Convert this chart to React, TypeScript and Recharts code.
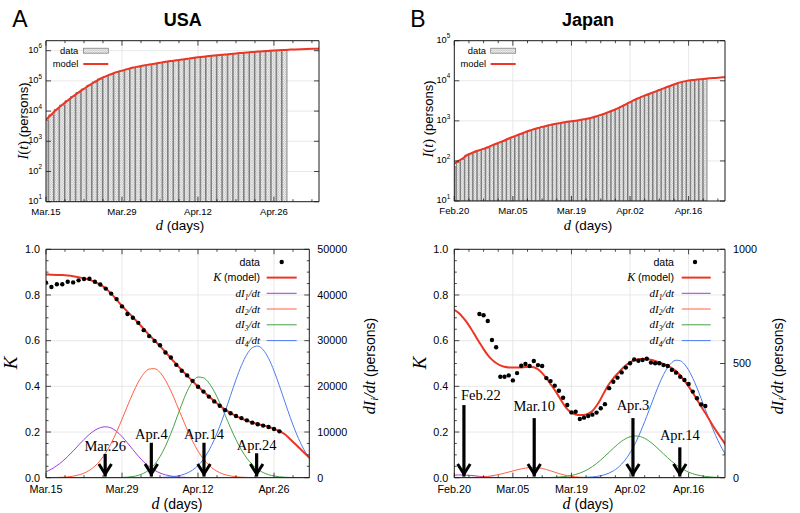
import React from 'react';
import { ComposedChart, Bar, Line, Scatter, XAxis, YAxis, CartesianGrid, ReferenceLine } from 'recharts';

const SANS = '"Liberation Sans", Arial, Helvetica, sans-serif';
const SERIF = '"Liberation Serif", "Times New Roman", serif';
const RED = '#ee3524';
const C1 = '#9a3fe0';
const C2 = '#ff6040';
const C3 = '#48a048';
const C4 = '#4d7cf0';
const AX = '#1a1a1a';

// ================= USA =================
const usaTickDays = [0, 14, 28, 42];
const usaTickLabels = ['Mar.15', 'Mar.29', 'Apr.12', 'Apr.26'];
const usaCumData = [4900, 7500, 11200, 15800, 22000, 30500, 41000, 54000, 71500, 92000,
  116000, 140000, 164000, 192000, 216000, 243000, 272000, 296000, 320000, 344000,
  368000, 395000, 424000, 454000, 476000, 508000, 534000, 571000, 598000, 627000,
  656000, 688000, 720000, 738000, 772000, 808000, 837000, 866000, 897000, 928000,
  950000, 979000, 1005000, 1030000, 1053000];
const usaCumModel = [5190, 7760, 11480, 16220, 22390, 30900, 41690, 54950, 72440, 93330,
  117500, 141300, 166000, 195000, 218800, 245500, 275400, 298500, 323600, 346700,
  371500, 398100, 426600, 457100, 478600, 512900, 537000, 575400, 602600, 631000,
  660700, 691800, 724400, 741300, 776200, 812800, 841400, 871000, 901600, 933300,
  955000, 984000, 1011600, 1035000, 1059000, 1084000, 1104000, 1122000, 1140000, 1156000,
  1169000, 1180000];
const usaKStart = 0;
const usaKData = [0.854, 0.835, 0.847, 0.847, 0.858, 0.855, 0.864, 0.870, 0.871, 0.858,
  0.846, 0.828, 0.806, 0.782, 0.750, 0.717, 0.700, 0.678, 0.646, 0.620,
  0.599, 0.580, 0.548, 0.526, 0.494, 0.468, 0.448, 0.424, 0.398, 0.377,
  0.355, 0.334, 0.315, 0.296, 0.282, 0.270, 0.261, 0.251, 0.241, 0.234,
  0.228, 0.222, 0.213, 0.203];
const usaKModel = [0.890, 0.889, 0.888, 0.887, 0.885, 0.882, 0.878, 0.873, 0.866, 0.857,
  0.845, 0.828, 0.806, 0.780, 0.752, 0.727, 0.703, 0.678, 0.651, 0.625,
  0.601, 0.576, 0.550, 0.523, 0.497, 0.471, 0.447, 0.423, 0.399, 0.377,
  0.356, 0.335, 0.316, 0.298, 0.283, 0.270, 0.259, 0.250, 0.242, 0.235,
  0.229, 0.222, 0.214, 0.204, 0.190, 0.168, 0.145, 0.122, 0.099, 0.077];
const usaDI1 = [1285, 1870, 2630, 3555, 4650, 5860, 7140, 8380, 9490, 10380,
  10950, 11150, 10890, 10140, 9000, 7620, 6150, 4730, 3470, 2430,
  1620, 1030, 625, 360, 200, 105, 52, 25, 11, 5,
  2, 1, 0, 0, 0, 0, 0, 0, 0, 0,
  0, 0, 0, 0, 0, 0, 0, 0, 0, 0];
const usaDI2 = [11, 24, 49, 97, 184, 338, 592, 998, 1620, 2530,
  3790, 5450, 7550, 10020, 12790, 15690, 18480, 20930, 22760, 23780,
  23870, 23030, 21340, 19010, 16260, 13370, 10560, 8010, 5840, 4090,
  2750, 1780, 1100, 660, 378, 209, 110, 56, 28, 13,
  6, 3, 1, 0, 0, 0, 0, 0, 0, 0];
const usaDI3 = [0, 0, 0, 0, 0, 0, 0, 0, 0, 0,
  1, 3, 9, 23, 54, 122, 258, 516, 977, 1740,
  2910, 4610, 6880, 9670, 12830, 16050, 18910, 21030, 22040, 21870,
  20750, 18870, 16410, 13670, 10910, 8330, 6090, 4260, 2860, 1830,
  1125, 660, 373, 201, 104, 52, 24, 11, 5, 2];
const usaDI4 = [0, 0, 0, 0, 0, 0, 0, 0, 0, 0,
  0, 0, 0, 0, 0, 0, 0, 2, 4, 10,
  21, 45, 91, 177, 330, 590, 1020, 1680, 2670, 4060,
  5940, 8340, 11230, 14500, 18020, 21470, 24560, 26990, 28450, 28810,
  28000, 26120, 23390, 20110, 16600, 13160, 10010, 7310, 5130, 3450];
const usaArrowDays = [10.9, 19.4, 29.1, 38.8];
const usaArrowTops = [0.104, 0.153, 0.153, 0.107];
const usaArrowLabels = ['Mar.26', 'Apr.4', 'Apr.14', 'Apr.24'];
const usaArrowAlign = ['middle', 'middle', 'middle', 'middle'];
const usaArrowGaps = [3, 3.7, 3.7, 3];

// ================= Japan =================
const jpTickDays = [0, 14, 28, 42, 56];
const jpTickLabels = ['Feb.20', 'Mar.05', 'Mar.19', 'Apr.02', 'Apr.16'];
const jpCumData = [72, 92, 110, 140, 150, 165, 182, 198, 212, 240,
  262, 290, 318, 355, 392, 430, 472, 520, 565, 610,
  650, 700, 740, 785, 820, 860, 900, 935, 965, 1000,
  1035, 1080, 1130, 1200, 1280, 1390, 1510, 1650, 1810, 2010,
  2250, 2530, 2900, 3270, 3630, 4030, 4420, 4850, 5320, 5830,
  6400, 7020, 7700, 8350, 9050, 9600, 10050, 10400, 10650, 10900,
  11150];
const jpCumModel = [85, 100, 115, 138, 155, 172, 186, 200, 219, 245,
  269, 295, 324, 363, 398, 437, 479, 525, 575, 617,
  661, 708, 750, 794, 832, 871, 912, 944, 977, 1012,
  1047, 1096, 1148, 1216, 1303, 1413, 1531, 1679, 1841, 2042,
  2291, 2570, 2951, 3311, 3673, 4074, 4467, 4898, 5370, 5888,
  6457, 7079, 7762, 8414, 9120, 9661, 10116, 10471, 10715, 10965,
  11220, 11482, 11749, 11967, 12162, 12400];
const jpKStart = 6;
const jpKData = [0.717, 0.711, 0.686, 0.603, 0.571, 0.442, 0.442, 0.448, 0.426, 0.458,
  0.490, 0.498, 0.489, 0.511, 0.493, 0.489, 0.436, 0.423, 0.403, 0.381,
  0.350, 0.318, 0.286, 0.289, 0.257, 0.263, 0.270, 0.276, 0.285, 0.304,
  0.322, 0.392, 0.420, 0.438, 0.461, 0.482, 0.501, 0.518, 0.512, 0.515,
  0.521, 0.504, 0.501, 0.501, 0.493, 0.489, 0.472, 0.460, 0.442, 0.428,
  0.410, 0.377, 0.348, 0.321, 0.314];
const jpKModel = [0.735, 0.722, 0.703, 0.680, 0.652, 0.622, 0.592, 0.563, 0.537, 0.517,
  0.502, 0.492, 0.486, 0.483, 0.482, 0.482, 0.483, 0.485, 0.486, 0.484,
  0.475, 0.458, 0.436, 0.410, 0.384, 0.355, 0.325, 0.300, 0.285, 0.277,
  0.274, 0.275, 0.280, 0.292, 0.315, 0.345, 0.380, 0.410, 0.435, 0.455,
  0.475, 0.492, 0.505, 0.514, 0.519, 0.521, 0.520, 0.516, 0.511, 0.505,
  0.498, 0.490, 0.480, 0.466, 0.448, 0.425, 0.400, 0.372, 0.342, 0.312,
  0.283, 0.253, 0.222, 0.194, 0.167, 0.140];
const jpDI1 = [11, 12, 12, 11, 10, 8, 6, 4.5, 3, 2,
  1, 0.6, 0.3, 0, 0, 0, 0, 0, 0, 0,
  0, 0, 0, 0, 0, 0, 0, 0, 0, 0,
  0, 0, 0, 0, 0, 0, 0, 0, 0, 0,
  0, 0, 0, 0, 0, 0, 0, 0, 0, 0,
  0, 0, 0, 0, 0, 0, 0, 0, 0, 0,
  0, 0, 0, 0, 0, 0];
const jpDI2 = [0.1, 0.2, 0.4, 0.6, 1.1, 1.7, 2.7, 4.1, 6.0, 8.5,
  11.7, 15.5, 19.9, 24.7, 29.7, 34.5, 38.7, 42.1, 44.3, 45,
  43.9, 40.7, 35.9, 30.2, 24.1, 18.3, 13.2, 9.1, 5.9, 3.7,
  2.2, 1.2, 0.6, 0.3, 0.1, 0, 0, 0, 0, 0,
  0, 0, 0, 0, 0, 0, 0, 0, 0, 0,
  0, 0, 0, 0, 0, 0, 0, 0, 0, 0,
  0, 0, 0, 0, 0, 0];
const jpDI3 = [0, 0, 0, 0, 0, 0, 0, 0, 0, 0,
  0, 0, 0, 0, 0, 0, 0, 0, 0, 0,
  0.2, 0.4, 0.6, 1.1, 1.7, 2.8, 4.4, 6.6, 9.8, 14.2,
  20.1, 27.6, 37, 48.6, 62.1, 77.3, 94, 111.4, 128.8, 145.3,
  159.7, 171.3, 179.2, 182.8, 181.9, 176.5, 167.1, 154.2, 138.9, 121.9,
  104.4, 87.2, 71, 56.5, 43.7, 33.1, 24.4, 17.5, 12.3, 8.4,
  5.6, 3.7, 2.3, 1.4, 0.9, 0.5];
const jpDI4 = [0, 0, 0, 0, 0, 0, 0, 0, 0, 0,
  0, 0, 0, 0, 0, 0, 0, 0, 0, 0,
  0, 0, 0, 0, 0, 0, 0, 0, 0, 0,
  0.7, 1.2, 2.0, 3.3, 5.5, 8.7, 13.4, 20.2, 29.7, 42.5,
  59.6, 81.4, 108.5, 141.1, 179.3, 222.3, 268.8, 317.3, 365.6, 410.9,
  450.9, 482.8, 504.5, 514.4, 511.9, 497.2, 471.2, 435.7, 393.4, 346.6,
  297.9, 249.9, 204.5, 163.5, 127.5, 97];
const jpArrowDays = [2.3, 19.1, 42.7, 53.9];
const jpArrowTops = [0.318, 0.261, 0.261, 0.133];
const jpArrowLabels = ['Feb.22', 'Mar.10', 'Apr.3', 'Apr.14'];
const jpArrowAlign = ['start', 'middle', 'middle', 'middle'];
const jpArrowGaps = [5, 7, 8, 7];

// ================= helpers =================
const near = (a: number, b: number) => Math.abs(a - b) < 1e-6;
const seq = (start: number, end: number, step: number) => {
  const out: number[] = [];
  const n = Math.round((end - start) / step);
  for (let i = 0; i <= n; i++) out.push(+(start + i * step).toFixed(6));
  return out;
};

function XTickBottom(props: any) {
  const { x, y, payload, majors, labels, fs, dy } = props;
  const idx = majors.findIndex((m: number) => near(m, payload.value));
  const major = idx >= 0;
  return (
    <g>
      <line x1={x} x2={x} y1={y} y2={y - (major ? 5 : 2.5)} stroke={AX} strokeWidth={0.8} />
      {major ? (
        <text x={x} y={y + dy} textAnchor="middle" fontFamily={SANS} fontSize={fs} fill="#000">{labels[idx]}</text>
      ) : null}
    </g>
  );
}
function XTickTop(props: any) {
  const { x, y, payload, majors } = props;
  const major = majors.some((m: number) => near(m, payload.value));
  return <line x1={x} x2={x} y1={y} y2={y + (major ? 5 : 2.5)} stroke={AX} strokeWidth={0.8} />;
}
function YTickLeft(props: any) {
  const { x, y, payload, majors, fmt, fs } = props;
  const major = majors.some((m: number) => near(m, payload.value));
  return (
    <g>
      <line x1={x} x2={x + (major ? 5 : 2.5)} y1={y} y2={y} stroke={AX} strokeWidth={0.8} />
      {major ? (
        <text x={x - 6} y={y + 3.8} textAnchor="end" fontFamily={SANS} fontSize={fs} fill="#000">{fmt(payload.value)}</text>
      ) : null}
    </g>
  );
}
function YTickRight(props: any) {
  const { x, y, payload, majors, fmt, fs, show } = props;
  const major = majors.some((m: number) => near(m, payload.value));
  return (
    <g>
      <line x1={x} x2={x - (major ? 5 : 2.5)} y1={y} y2={y} stroke={AX} strokeWidth={0.8} />
      {major && show ? (
        <text x={x + 8} y={y + 3.8} textAnchor="start" fontFamily={SANS} fontSize={fs} fill="#000">{fmt(payload.value)}</text>
      ) : null}
    </g>
  );
}
function LogTickLeft(props: any) {
  const { x, y, payload, show } = props;
  const e = Math.round(Math.log10(payload.value));
  return (
    <g>
      <line x1={x} x2={x + 5} y1={y} y2={y} stroke={AX} strokeWidth={0.8} />
      {show ? (
        <text x={x - 4} y={y + 2.2} textAnchor="end" fontFamily={SANS} fontSize={9.3} fill="#000">
          10<tspan fontSize={6.3} dy={-4.5}>{e}</tspan>
        </text>
      ) : null}
    </g>
  );
}
function LogTickRight(props: any) {
  const { x, y } = props;
  return <line x1={x} x2={x - 5} y1={y} y2={y} stroke={AX} strokeWidth={0.8} />;
}

const arrowLabel = (text: string, align: string, gap: number) => (p: any) => {
  const vb = (p && p.viewBox) || {};
  const cx = (vb.x ?? 0) + (vb.width ?? 0) / 2;
  const top = vb.y ?? 0;
  return (
    <text x={align === 'start' ? cx - 3 : cx} y={top - gap} textAnchor={align as any}
      fontFamily={SERIF} fontSize={14.5} fill="#000">{text}</text>
  );
};

const axisLine = { stroke: AX, strokeWidth: 1 };
// axes take 1px; margins are the plot box minus that
const mg = (top: number, right: number, bottom: number, left: number) => ({
  top: top - 1, right: right - 1, bottom: bottom - 1, left: left - 1,
});

type TopProps = {
  id: string; cum: number[]; model: number[]; tickDays: number[]; tickLabels: string[];
  xMax: number; yMax: number; decades: number[]; box: number[];
};
function TopPanel({ id, cum, model, tickDays, tickLabels, xMax, yMax, decades, box }: TopProps) {
  const W = 400, H = 230;
  const bars = cum.map((v, i) => ({ day: i, cum: v }));
  const line = model.map((v, i) => ({ day: i, model: v }));
  const xTicks = seq(0, Math.floor(xMax / 3.5) * 3.5, 3.5);
  const barSize = (W - box[1] - box[3]) / xMax;
  return (
    <ComposedChart width={W} height={H} data={bars} margin={mg(box[0], box[1], box[2], box[3])}>
      <defs>
        <pattern id={`hatch-${id}`} patternUnits="userSpaceOnUse" width={2.4} height={2.4}>
          <rect width={2.4} height={2.4} fill="#f4f4f4" />
          <path d="M0,0 L2.4,2.4 M2.4,0 L0,2.4" stroke="#b4b4b4" strokeWidth={0.5} />
        </pattern>
      </defs>
      <CartesianGrid xAxisId="b" yAxisId="l" stroke="#e2e2e2" strokeWidth={0.8}
        verticalValues={tickDays.slice(1)} horizontalValues={decades.filter((d) => d > 10 && d < yMax)} />
      <XAxis xAxisId="b" dataKey="day" type="number" domain={[0, xMax]} allowDataOverflow ticks={xTicks} interval={0}
        height={1} tickSize={0} tickMargin={0} tickLine={false} axisLine={axisLine}
        tick={(p: any) => <XTickBottom {...p} majors={tickDays} labels={tickLabels} fs={9.6} dy={13} />} />
      <XAxis xAxisId="t" orientation="top" dataKey="day" type="number" domain={[0, xMax]} allowDataOverflow ticks={xTicks} interval={0}
        height={1} tickSize={0} tickMargin={0} tickLine={false} axisLine={axisLine}
        tick={(p: any) => <XTickTop {...p} majors={tickDays} />} />
      <YAxis yAxisId="l" type="number" scale="log" domain={[10, yMax]} allowDataOverflow ticks={decades} interval={0}
        width={1} tickSize={0} tickMargin={0} tickLine={false} axisLine={axisLine}
        tick={(p: any) => <LogTickLeft {...p} show />} />
      <YAxis yAxisId="r" orientation="right" type="number" scale="log" domain={[10, yMax]} allowDataOverflow ticks={decades} interval={0}
        width={1} tickSize={0} tickMargin={0} tickLine={false} axisLine={axisLine}
        tick={(p: any) => <LogTickRight {...p} />} />
      <Bar xAxisId="b" yAxisId="l" dataKey="cum" fill={`url(#hatch-${id})`} stroke="#5a5a5a" strokeWidth={0.7}
        barSize={barSize} isAnimationActive={false} />
      <Line xAxisId="b" yAxisId="l" data={line} dataKey="model" type="monotone" stroke={RED} strokeWidth={2}
        dot={false} isAnimationActive={false} />
    </ComposedChart>
  );
}

type BottomProps = {
  id: string; kStart: number; kData: number[]; kModel: number[]; d1: number[]; d2: number[]; d3: number[]; d4: number[];
  tickDays: number[]; tickLabels: string[]; xMax: number; rMax: number; rMajor: number; rMinor: number;
  arrowDays: number[]; arrowTops: number[]; arrowLabels: string[]; arrowAlign: string[]; arrowGaps: number[]; box: number[];
};
function BottomPanel(props: BottomProps) {
  const { id, kStart, kData, kModel, d1, d2, d3, d4, tickDays, tickLabels, xMax, rMax, rMajor, rMinor,
    arrowDays, arrowTops, arrowLabels, arrowAlign, arrowGaps, box } = props;
  const W = 400, H = 283;
  const table = kModel.map((v, i) => ({ day: i, km: v, d1: d1[i], d2: d2[i], d3: d3[i], d4: d4[i] }));
  const dots = kData.map((v, i) => ({ day: kStart + i, k: v }));
  const xTicks = seq(0, Math.floor(xMax / 3.5) * 3.5, 3.5);
  const kTicks = seq(0, 1, 0.05);
  const kMajors = seq(0, 1, 0.2);
  const rTicks = seq(0, rMax, rMinor);
  const rMajors = seq(0, rMax, rMajor);
  const dotShape = (p: any) => <circle cx={p.cx} cy={p.cy} r={2.2} fill="#000" />;
  return (
    <ComposedChart width={W} height={H} data={table} margin={mg(box[0], box[1], box[2], box[3])}>
      <defs>
        <marker id={`vhead-${id}`} markerUnits="userSpaceOnUse" markerWidth={18} markerHeight={18}
          viewBox="-15 -9 18 18" refX={0} refY={0} orient="auto">
          <path d="M-12.5,-6.3 L-2.6,0 L-12.5,6.3" fill="none" stroke="#000" strokeWidth={3} />
        </marker>
      </defs>
      <CartesianGrid xAxisId="b" yAxisId="K" stroke="#e2e2e2" strokeWidth={0.8}
        verticalValues={tickDays.slice(1)} horizontalValues={[0.2, 0.4, 0.6, 0.8]} />
      <XAxis xAxisId="b" dataKey="day" type="number" domain={[0, xMax]} allowDataOverflow ticks={xTicks} interval={0}
        height={1} tickSize={0} tickMargin={0} tickLine={false} axisLine={axisLine}
        tick={(p: any) => <XTickBottom {...p} majors={tickDays} labels={tickLabels} fs={10.8} dy={15.4} />} />
      <XAxis xAxisId="t" orientation="top" dataKey="day" type="number" domain={[0, xMax]} allowDataOverflow ticks={xTicks} interval={0}
        height={1} tickSize={0} tickMargin={0} tickLine={false} axisLine={axisLine}
        tick={(p: any) => <XTickTop {...p} majors={tickDays} />} />
      <YAxis yAxisId="K" type="number" domain={[0, 1]} allowDataOverflow ticks={kTicks} interval={0}
        width={1} tickSize={0} tickMargin={0} tickLine={false} axisLine={axisLine}
        tick={(p: any) => <YTickLeft {...p} majors={kMajors} fmt={(v: number) => v.toFixed(1)} fs={10.8} />} />
      <YAxis yAxisId="R" orientation="right" type="number" domain={[0, rMax]} allowDataOverflow ticks={rTicks} interval={0}
        width={1} tickSize={0} tickMargin={0} tickLine={false} axisLine={axisLine}
        tick={(p: any) => <YTickRight {...p} majors={rMajors} fmt={(v: number) => String(v)} fs={10.8} show />} />
      <Line xAxisId="b" yAxisId="R" dataKey="d1" type="monotone" stroke={C1} strokeWidth={1} dot={false} isAnimationActive={false} />
      <Line xAxisId="b" yAxisId="R" dataKey="d2" type="monotone" stroke={C2} strokeWidth={1} dot={false} isAnimationActive={false} />
      <Line xAxisId="b" yAxisId="R" dataKey="d3" type="monotone" stroke={C3} strokeWidth={1} dot={false} isAnimationActive={false} />
      <Line xAxisId="b" yAxisId="R" dataKey="d4" type="monotone" stroke={C4} strokeWidth={1} dot={false} isAnimationActive={false} />
      <Line xAxisId="b" yAxisId="K" dataKey="km" type="monotone" stroke={RED} strokeWidth={2} dot={false} isAnimationActive={false} />
      <Scatter xAxisId="b" yAxisId="K" data={dots} dataKey="k" shape={dotShape} isAnimationActive={false} />
      {arrowDays.map((d, i) => (
        <ReferenceLine key={i} xAxisId="b" yAxisId="K"
          segment={[{ x: d, y: arrowTops[i] }, { x: d, y: 0.005 }]}
          stroke="#000" strokeWidth={3.2} markerEnd={`url(#vhead-${id})`}
          label={arrowLabel(arrowLabels[i], arrowAlign[i], arrowGaps[i])} />
      ))}
    </ComposedChart>
  );
}

function DI({ n }: { n: number }) {
  return (
    <>
      dI<tspan fontSize={7.5} dy={2.8}>{n}</tspan><tspan dy={-2.8}>/dt</tspan>
    </>
  );
}

function Overlay() {
  const legendRowsY = [262, 277.6, 293.3, 309, 324.8, 340.6];
  const bottomLegend = (textX: number, lineX1: number, lineX2: number, dotX: number) => (
    <g>
      <text x={textX} y={legendRowsY[0] + 3.8} textAnchor="end" fontFamily={SANS} fontSize={10.6}>data</text>
      <circle cx={dotX} cy={legendRowsY[0]} r={2.2} fill="#000" />
      <text x={textX} y={legendRowsY[1] + 3.8} textAnchor="end" fontSize={10.6}>
        <tspan fontFamily={SERIF} fontStyle="italic" fontSize={12}>K</tspan>
        <tspan fontFamily={SANS}> (model)</tspan>
      </text>
      <line x1={lineX1} x2={lineX2} y1={legendRowsY[1]} y2={legendRowsY[1]} stroke={RED} strokeWidth={2} />
      {[C1, C2, C3, C4].map((c, i) => (
        <g key={i}>
          <text x={textX} y={legendRowsY[i + 2] + 3.5} textAnchor="end" fontFamily={SERIF} fontStyle="italic" fontSize={11}>
            <DI n={i + 1} />
          </text>
          <line x1={lineX1} x2={lineX2} y1={legendRowsY[i + 2]} y2={legendRowsY[i + 2]} stroke={c} strokeWidth={1} />
        </g>
      ))}
    </g>
  );
  const topLegend = (textX: number, boxX: number, id: string) => (
    <g>
      <text x={textX} y={54} textAnchor="end" fontFamily={SANS} fontSize={9.4}>data</text>
      <rect x={boxX} y={48.2} width={25} height={5} fill={`url(#hatch-${id})`} stroke="#777" strokeWidth={0.7} />
      <text x={textX} y={67.3} textAnchor="end" fontFamily={SANS} fontSize={9.4}>model</text>
      <line x1={boxX} x2={boxX + 25} y1={64} y2={64} stroke={RED} strokeWidth={2} />
    </g>
  );
  const yTitleTop = (x: number, y: number) => (
    <text transform={`translate(${x},${y}) rotate(-90)`} textAnchor="middle" fontSize={13}>
      <tspan fontFamily={SERIF} fontStyle="italic" fontSize={14.5}>I</tspan>
      <tspan fontFamily={SERIF} fontSize={14.5}>(</tspan>
      <tspan fontFamily={SERIF} fontStyle="italic" fontSize={14.5}>t</tspan>
      <tspan fontFamily={SERIF} fontSize={14.5}>)</tspan>
      <tspan fontFamily={SANS}> (persons)</tspan>
    </text>
  );
  const yTitleRight = (x: number, y: number) => (
    <text transform={`translate(${x},${y}) rotate(-90)`} textAnchor="middle" fontSize={14}>
      <tspan fontFamily={SERIF} fontStyle="italic" fontSize={16}>dI</tspan>
      <tspan fontFamily={SERIF} fontStyle="italic" fontSize={11} dy={3}>i</tspan>
      <tspan fontFamily={SERIF} fontStyle="italic" fontSize={16} dy={-3}>/dt</tspan>
      <tspan fontFamily={SANS}> (persons)</tspan>
    </text>
  );
  const xTitle = (x: number, y: number, big: number, small: number) => (
    <text x={x} y={y} textAnchor="middle" fontSize={small}>
      <tspan fontFamily={SERIF} fontStyle="italic" fontSize={big}>d</tspan>
      <tspan fontFamily={SANS}> (days)</tspan>
    </text>
  );
  return (
    <svg width={800} height={513} style={{ position: 'absolute', left: 0, top: 0, pointerEvents: 'none' }}>
      <text x={20} y={26.7} textAnchor="middle" fontFamily={SANS} fontSize={23}>A</text>
      <text x={182.7} y={26} textAnchor="middle" fontFamily={SANS} fontSize={18} fontWeight="bold">USA</text>
      <text x={418} y={26.7} textAnchor="middle" fontFamily={SANS} fontSize={23}>B</text>
      <text x={588} y={26} textAnchor="middle" fontFamily={SANS} fontSize={18} fontWeight="bold">Japan</text>
      {topLegend(78.3, 83.3, 'usa')}
      {topLegend(486, 490.7, 'jp')}
      {bottomLegend(260, 266.7, 296.7, 281.7)}
      {bottomLegend(674, 681.7, 710.7, 695)}
      {yTitleTop(28, 121)}
      {yTitleTop(433, 119)}
      <text transform="translate(17,363) rotate(-90)" textAnchor="middle" fontFamily={SERIF} fontStyle="italic" fontSize={19}>K</text>
      <text transform="translate(426,363) rotate(-90)" textAnchor="middle" fontFamily={SERIF} fontStyle="italic" fontSize={19}>K</text>
      {yTitleRight(375, 366)}
      {yTitleRight(783, 366)}
      {xTitle(180, 230, 14.5, 13.5)}
      {xTitle(588, 230, 14.5, 13.5)}
      {xTitle(177, 508.5, 16, 14)}
      {xTitle(588, 508.5, 16, 14)}
    </svg>
  );
}

export default function App() {
  const place = (left: number, top: number, child: React.ReactNode) => (
    <div style={{ position: 'absolute', left, top, width: 400 }}>{child}</div>
  );
  return (
    <div style={{ position: 'absolute', left: 0, top: 0, width: 800, height: 513, background: '#fff', overflow: 'hidden' }}>
      {place(0, 0, (
        <TopPanel id="usa" cum={usaCumData} model={usaCumModel} tickDays={usaTickDays} tickLabels={usaTickLabels}
          xMax={50.3} yMax={2.14e6} decades={[10, 100, 1e3, 1e4, 1e5, 1e6]}
          box={[40.7, 81, 28.3, 46]} />
      ))}
      {place(400, 0, (
        <TopPanel id="jp" cum={jpCumData} model={jpCumModel} tickDays={jpTickDays} tickLabels={jpTickLabels}
          xMax={64.7} yMax={1e5} decades={[10, 100, 1e3, 1e4, 1e5]}
          box={[40.7, 75, 29, 54.3]} />
      ))}
      {place(0, 230, (
        <BottomPanel id="usa" kStart={usaKStart} kData={usaKData} kModel={usaKModel} d1={usaDI1} d2={usaDI2} d3={usaDI3} d4={usaDI4}
          tickDays={usaTickDays} tickLabels={usaTickLabels} xMax={48.5} rMax={50000} rMajor={10000} rMinor={2500}
          arrowDays={usaArrowDays} arrowTops={usaArrowTops} arrowLabels={usaArrowLabels}
          arrowAlign={usaArrowAlign} arrowGaps={usaArrowGaps}
          box={[19.3, 90.7, 35.3, 46]} />
      ))}
      {place(400, 230, (
        <BottomPanel id="jp" kStart={jpKStart} kData={jpKData} kModel={jpKModel} d1={jpDI1} d2={jpDI2} d3={jpDI3} d4={jpDI4}
          tickDays={jpTickDays} tickLabels={jpTickLabels} xMax={64.7} rMax={1000} rMajor={500} rMinor={100}
          arrowDays={jpArrowDays} arrowTops={jpArrowTops} arrowLabels={jpArrowLabels}
          arrowAlign={jpArrowAlign} arrowGaps={jpArrowGaps}
          box={[19.3, 75, 35.3, 54.3]} />
      ))}
      <Overlay />
    </div>
  );
}
